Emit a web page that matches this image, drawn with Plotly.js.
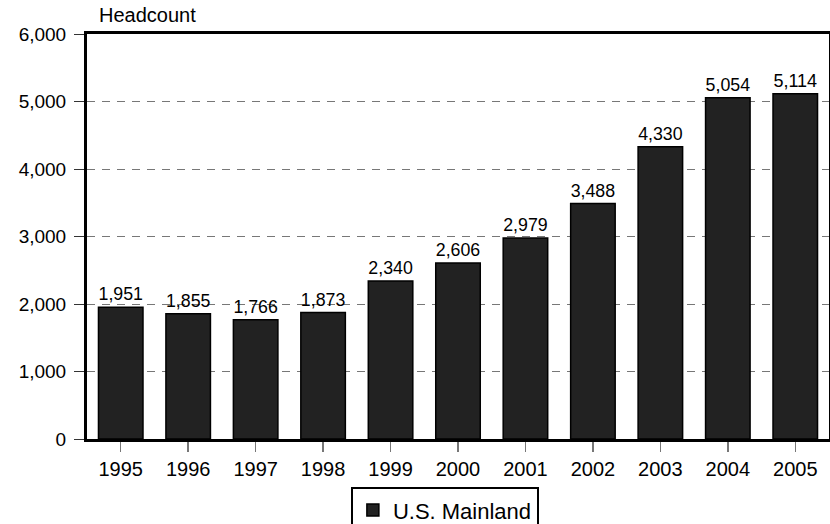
<!DOCTYPE html>
<html>
<head>
<meta charset="utf-8">
<script src="https://cdn.plot.ly/plotly-3.0.1.min.js"></script>
<style>
  html, body { margin: 0; padding: 0; background: #fff; }
  #chart { width: 830px; height: 524px; }
</style>
</head>
<body>
<div id="chart"></div>
<script>
const years = ['1995','1996','1997','1998','1999','2000','2001','2002','2003','2004','2005'];
const headcount = [1951, 1855, 1766, 1873, 2340, 2606, 2979, 3488, 4330, 5054, 5114];
const seriesName = 'U.S. Mainland';
const yTitle = 'Headcount';

const font = 'Liberation Sans, Arial, Helvetica, sans-serif';

const trace = {
  type: 'bar',
  x: years,
  y: headcount,
  name: seriesName,
  marker: { color: '#222222', line: { color: '#000000', width: 1.5 } },
  text: headcount.map(v => v.toLocaleString('en-US')),
  textposition: 'outside',
  textfont: { family: font, size: 18, color: '#000' },
  cliponaxis: false,
  showlegend: true,
  hoverinfo: 'x+y'
};

const layout = {
  width: 830,
  height: 524,
  margin: { l: 87, r: 1, t: 34, b: 85, pad: 0, autoexpand: false },
  paper_bgcolor: '#ffffff',
  plot_bgcolor: '#ffffff',
  font: { family: font, size: 20, color: '#000' },
  bargap: 0.34,
  showlegend: true,
  legend: {
    orientation: 'h',
    xref: 'container', yref: 'container',
    x: 0.536, xanchor: 'center',
    y: 0.07, yanchor: 'top',
    bordercolor: '#000', borderwidth: 2,
    font: { family: font, size: 22, color: '#000' },
    itemwidth: 30,
    bgcolor: '#fff'
  },
  xaxis: {
    type: 'category',
    showline: true, linecolor: '#000', linewidth: 3, mirror: true,
    ticks: 'outside', ticklen: 10, tickcolor: '#777', tickwidth: 1.5,
    tickfont: { family: font, size: 20, color: '#000' },
    showgrid: false, zeroline: false,
    fixedrange: true
  },
  yaxis: {
    range: [0, 6000],
    dtick: 1000,
    tickformat: ',d',
    showline: true, linecolor: '#000', linewidth: 3, mirror: true,
    ticks: 'outside', ticklen: 10, tickcolor: '#333', tickwidth: 1,
    ticklabelstandoff: 4,
    tickfont: { family: font, size: 19, color: '#000' },
    showgrid: true, gridcolor: '#777', gridwidth: 1, griddash: '8px,7px',
    zeroline: false,
    fixedrange: true
  },
  annotations: [{
    text: yTitle,
    xref: 'paper', yref: 'paper',
    x: 0, y: 1, xanchor: 'left', yanchor: 'bottom',
    xshift: 10, yshift: 6,
    showarrow: false,
    font: { family: font, size: 20, color: '#000' }
  }]
};

Plotly.newPlot('chart', [trace], layout, { displayModeBar: false, staticPlot: true });
</script>
</body>
</html>
